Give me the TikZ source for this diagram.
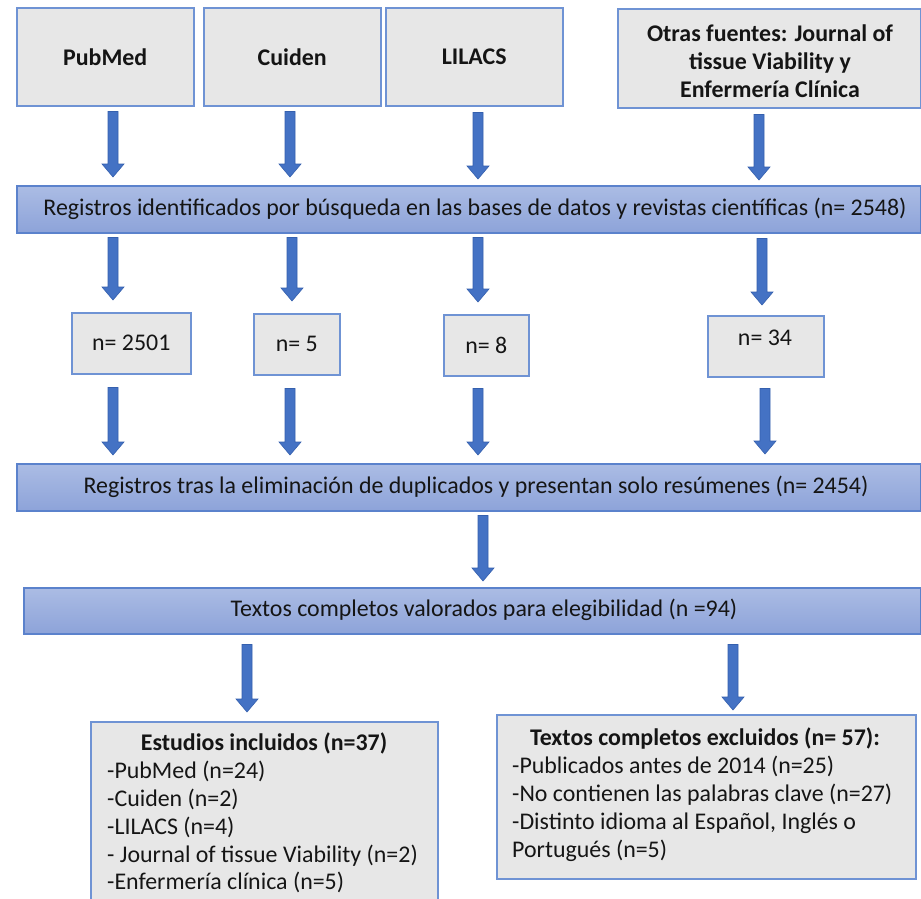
\documentclass[tikz,border=0pt]{standalone}
\usepackage{fontspec}
\setmainfont{Carlito}
\usetikzlibrary{calc}
\definecolor{boxfill}{HTML}{E7E7E7}
\definecolor{boxline}{HTML}{6F93D4}
\definecolor{bartop}{HTML}{ABBCE4}
\definecolor{barbot}{HTML}{8DA3D9}
\definecolor{barline}{HTML}{5B82CC}
\definecolor{arrfill}{HTML}{4472C4}
\definecolor{arrline}{HTML}{3560AE}
\definecolor{txt}{HTML}{151515}
\tikzset{
  every node/.style={font=\fontsize{23.9}{27.8}\selectfont, text=txt},
  srcbox/.style={draw=boxline, line width=1.5pt, fill=boxfill, anchor=north west, inner sep=0pt, align=center},
  barbox/.style={draw=barline, line width=1.5pt, top color=bartop, bottom color=barbot, anchor=north west, inner sep=0pt},
  blockarrowstyle/.style={fill=arrfill, draw=arrline, line width=0.6pt, line join=miter},
  plain/.style={inner sep=0pt},
}
% #1 from, #2 to, #3 start gap, #4 end gap
\newcommand\blockarrow[4]{%
  \path[blockarrowstyle] let \p1=(#1), \p2=(#2) in
    (\x1-5pt,\y1-#3pt) -- (\x1+5pt,\y1-#3pt) -- (\x1+5pt,\y2+#4pt+13pt)
    -- (\x1+11pt,\y2+#4pt+13pt) -- (\x1,\y2+#4pt) -- (\x1-11pt,\y2+#4pt+13pt)
    -- (\x1-5pt,\y2+#4pt+13pt) -- cycle;}
\begin{document}
\begin{tikzpicture}[x=1pt,y=-1pt]
\clip (0,0) rectangle (921,898);
\fill[white] (0,0) rectangle (921,898);

% top source boxes
\node[srcbox, minimum width=177, minimum height=98] (pub) at (16,7) {\bfseries PubMed};
\node[srcbox, minimum width=177, minimum height=98] (cui) at (203,7) {\bfseries Cuiden};
\node[srcbox, minimum width=177, minimum height=98] (lil) at (385,7) {\bfseries LILACS};
\node[srcbox, minimum width=303, minimum height=99] (otr) at (617,8) {};
\node[plain, align=center] (otrt) at (770,61) {\bfseries Otras fuentes: Journal of\\\bfseries tissue Viability y\\\bfseries Enfermería Clínica};

% bar 1
\node[barbox, minimum width=904, minimum height=47] (bar1) at (16,185) {};
\node[plain] (bar1t) at (475,208.5) {Registros identificados por búsqueda en las bases de datos y revistas científicas (n= 2548)};

% count boxes
\node[srcbox, minimum width=119, minimum height=61] (n1) at (71,312) {n= 2501};
\node[srcbox, minimum width=86, minimum height=61] (n2) at (253,313) {n= 5};
\node[srcbox, minimum width=85, minimum height=61] (n3) at (443,314) {n= 8};
\node[srcbox, minimum width=116, minimum height=61] (n4) at (707,315) {};
\node[plain] (n4t) at (765,338) {n= 34};

% bar 2
\node[barbox, minimum width=904, minimum height=47] (bar2) at (16,463) {};
\node[plain] (bar2t) at (476,486.5) {Registros tras la eliminación de duplicados y presentan solo resúmenes (n= 2454)};

% bar 3
\node[barbox, minimum width=897, minimum height=46] (bar3) at (23,587) {};
\node[plain] (bar3t) at (484,610) {Textos completos valorados para elegibilidad (n =94)};

% bottom boxes
\node[srcbox, minimum width=347, minimum height=200] (inc) at (90,721) {};
\node[plain] (inct) at (264,743) {\bfseries Estudios incluidos (n=37)};
\node[plain, align=left, anchor=north west] (incl) at (107,761) {-PubMed (n=24)\\-Cuiden (n=2)\\-LILACS (n=4)\\- Journal of tissue Viability (n=2)\\-Enfermería clínica (n=5)};

\node[srcbox, minimum width=419, minimum height=164] (exc) at (496,714) {};
\node[plain] (exct) at (705,738) {\bfseries Textos completos excluidos (n= 57):};
\node[plain, align=left, anchor=north west] (excl) at (512,756) {-Publicados antes de 2014 (n=25)\\-No contienen las palabras clave (n=27)\\-Distinto idioma al Español, Inglés o\\Portugués (n=5)};

% arrow columns
\coordinate (a1) at (113,0);
\coordinate (a2) at (290,0);
\coordinate (a3) at (478,0);
\coordinate (a4) at (759,0);
\coordinate (b2) at (292,0);
\coordinate (b4) at (762,0);
\coordinate (c4) at (765,0);
\coordinate (d1) at (483,0);
\coordinate (e1) at (247,0);
\coordinate (e2) at (733,0);

% sources -> bar1
\blockarrow{pub.south -| a1}{bar1.north -| a1}{5}{8}
\blockarrow{cui.south -| a2}{bar1.north -| a2}{5}{8}
\blockarrow{lil.south -| a3}{bar1.north -| a3}{6}{6}
\blockarrow{otr.south -| a4}{bar1.north -| a4}{6}{5}
% bar1 -> counts
\blockarrow{bar1.south -| a1}{n1.north -| a1}{4}{12}
\blockarrow{bar1.south -| b2}{n2.north -| b2}{4}{12}
\blockarrow{bar1.south -| a3}{n3.north -| a3}{4}{12}
\blockarrow{bar1.south -| b4}{n4.north -| b4}{5}{10}
% counts -> bar2
\blockarrow{n1.south -| a1}{bar2.north -| a1}{13}{8}
\blockarrow{n2.south -| a2}{bar2.north -| a2}{13}{8}
\blockarrow{n3.south -| a3}{bar2.north -| a3}{12}{8}
\blockarrow{n4.south -| c4}{bar2.north -| c4}{11}{9}
% bar2 -> bar3
\blockarrow{bar2.south -| d1}{bar3.north -| d1}{4}{6}
% bar3 -> results
\blockarrow{bar3.south -| e1}{inc.north -| e1}{10}{9}
\blockarrow{bar3.south -| e2}{exc.north -| e2}{10}{4}
\end{tikzpicture}
\end{document}
